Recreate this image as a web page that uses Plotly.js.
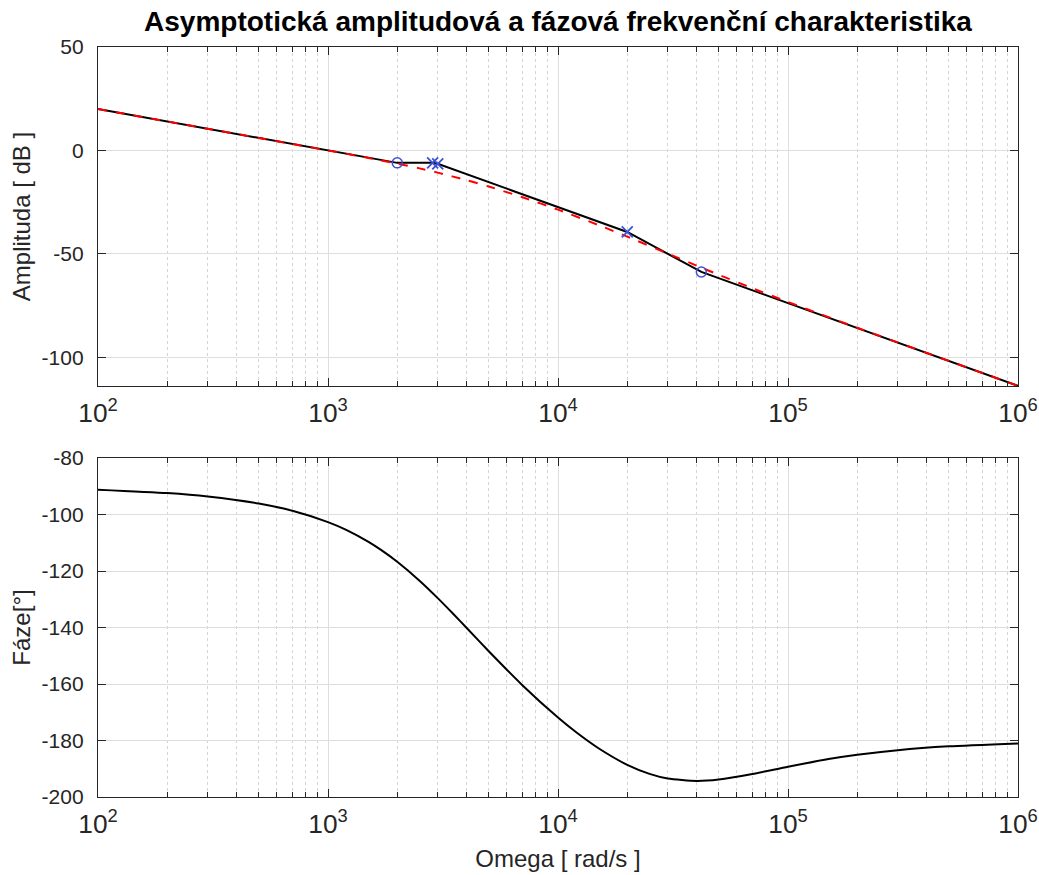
<!DOCTYPE html>
<html>
<head>
<meta charset="utf-8">
<script src="https://cdn.plot.ly/plotly-3.0.1.min.js"></script>
<style>html,body{margin:0;padding:0;background:#fff;}#chart{width:1039px;height:875px;}</style>
</head>
<body>
<div id="chart"></div>
<script>
// Asymptotic magnitude (black) breakpoints
const asymW = [100, 2000, 2850, 3000, 20000, 42000, 1000000];
const asymDb = [20, -6.02, -6.02, -6.47, -39.43, -58.76, -113.83];
// Actual magnitude (red dashed)
const magW = [100,200,300,500,700,1000,1500,2000,2500,3000,4000,5000,7000,10000,15000,20000,30000,40000,50000,70000,100000,200000,500000,1000000];
const magDb = [20.00,13.98,10.46,6.03,3.11,0.00,-3.63,-6.38,-8.69,-10.75,-14.35,-17.46,-22.62,-28.65,-36.09,-41.69,-49.86,-55.68,-60.13,-66.64,-73.30,-85.72,-101.76,-113.82];
// Zeros (o) and poles (x)
const zeroW = [2000, 42000];
const zeroDb = [-6.02, -58.76];
const poleW = [2850, 3000, 20000];
const poleDb = [-6.02, -6.47, -39.43];
// Phase
const phW = [100,200,300,500,700,1000,1200,1500,1700,2000,2500,3000,3500,4000,5000,7000,10000,12000,15000,20000,25000,30000,40000,50000,70000,100000,150000,200000,300000,500000,1000000];
const phDeg = [-91.21,-92.42,-93.64,-96.13,-98.69,-102.70,-105.46,-109.70,-112.54,-116.74,-123.44,-129.61,-135.15,-140.10,-148.40,-160.41,-171.88,-177.09,-182.74,-188.61,-191.80,-193.45,-194.33,-193.82,-191.87,-189.28,-186.57,-185.05,-183.42,-182.07,-181.04];

// Tick labels
const yTopTicks = [50, 0, -50, -100];
const yTopLabels = ['50', '0', '-50', '-100'];
const yBotTicks = [-80, -100, -120, -140, -160, -180, -200];
const yBotLabels = ['-80', '-100', '-120', '-140', '-160', '-180', '-200'];

const titleText = 'Asymptotická amplitudová a fázová frekvenční charakteristika';
const yTitleTop = 'Amplituda [ dB ]';
const yTitleBot = 'Fáze[°]';
const xTitle = 'Omega [ rad/s ]';

const FONT = 'Liberation Sans, Arial, Helvetica, sans-serif';
const axisCol = '#262626';
const markerBlue = '#3c50d8';

const traces = [
  {x: asymW, y: asymDb, xaxis:'x', yaxis:'y', mode:'lines', line:{color:'#000', width:2}, hoverinfo:'skip'},
  {x: magW, y: magDb, xaxis:'x', yaxis:'y', mode:'lines', line:{color:'#ff0000', width:2, dash:'dash', shape:'spline', smoothing:0.6}, hoverinfo:'skip'},
  {x: zeroW, y: zeroDb, xaxis:'x', yaxis:'y', mode:'markers', marker:{symbol:'circle-open', size:10, color:markerBlue, line:{width:1.5, color:markerBlue}}},
  {x: poleW, y: poleDb, xaxis:'x', yaxis:'y', mode:'markers', marker:{symbol:'x-thin-open', size:11, color:markerBlue, line:{width:1.8, color:markerBlue}}},
  {x: phW, y: phDeg, xaxis:'x2', yaxis:'y2', mode:'lines', line:{color:'#000', width:2, shape:'spline', smoothing:0.6}, hoverinfo:'skip'}
];

const W = 1039, H = 875;
const xDom = [98/W, 1018/W];
function xaxisDef(anchor){
  return {
    type:'log', range:[2,6], domain:xDom, anchor:anchor,
    dtick:1, exponentformat:'power', showexponent:'all',
    showline:true, linecolor:axisCol, linewidth:1.2, mirror:'ticks',
    ticks:'inside', ticklen:8, tickcolor:axisCol,
    showgrid:true, gridcolor:'#dedede', gridwidth:1,
    minor:{dtick:'D1', ticks:'inside', ticklen:5, tickcolor:axisCol, showgrid:true, gridcolor:'#d4d4d4', griddash:'dot', gridwidth:1},
    tickfont:{family:FONT, size:21, color:axisCol},
    ticklabelstandoff:4,
    zeroline:false
  };
}
function yaxisDef(range, vals, labels, dom, anchor){
  return {
    range:range, tickmode:'array', tickvals:vals, ticktext:labels, domain:dom, anchor:anchor,
    showline:true, linecolor:axisCol, linewidth:1.2, mirror:'ticks',
    ticks:'inside', ticklen:8, tickcolor:axisCol,
    showgrid:true, gridcolor:'#dedede', gridwidth:1,
    tickfont:{family:FONT, size:21, color:axisCol},
    ticklabelstandoff:9,
    zeroline:false
  };
}

const layout = {
  width:W, height:H, showlegend:false,
  paper_bgcolor:'#fff', plot_bgcolor:'#fff',
  margin:{l:0, r:0, t:0, b:0},
  title:{text:'<b>'+titleText+'</b>', font:{family:FONT, size:28, color:'#000'}, xref:'paper', x:558/W, xanchor:'center', yref:'container', y:1-21/H, yanchor:'middle'},
  xaxis: xaxisDef('y'),
  yaxis: Object.assign(yaxisDef([-113.9, 50], yTopTicks, yTopLabels, [1-386/H, 1-47/H], 'x'), {title:{text:yTitleTop, font:{family:FONT, size:24, color:axisCol}, standoff:4}}),
  xaxis2: Object.assign(xaxisDef('y2'), {title:{text:xTitle, font:{family:FONT, size:24, color:axisCol}, standoff:12}}),
  yaxis2: Object.assign(yaxisDef([-200, -80], yBotTicks, yBotLabels, [1-797/H, 1-458/H], 'x2'), {title:{text:yTitleBot, font:{family:FONT, size:24, color:axisCol}, standoff:4}})
};

Plotly.newPlot('chart', traces, layout, {displayModeBar:false, staticPlot:true});
</script>
</body>
</html>
